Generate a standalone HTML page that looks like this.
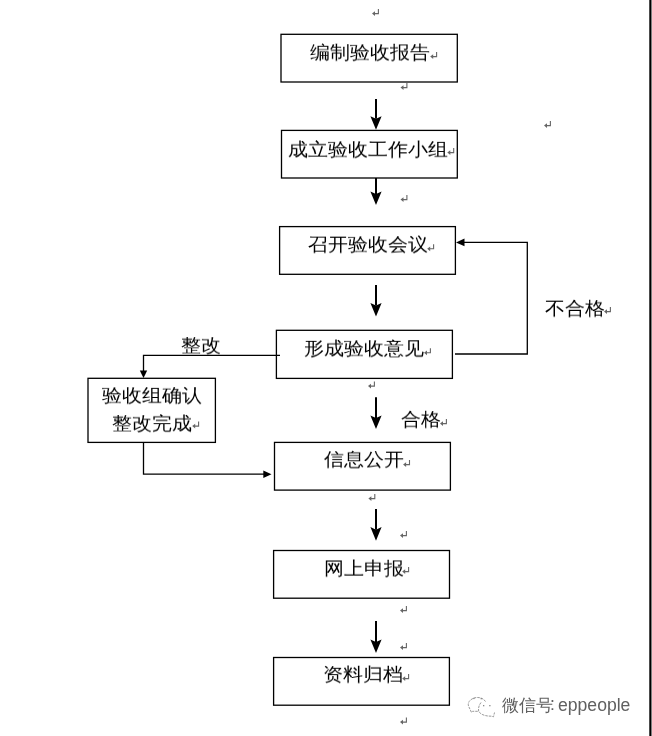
<!DOCTYPE html>
<html><head><meta charset="utf-8"><style>
html,body{margin:0;padding:0;background:#fff;width:652px;height:736px;overflow:hidden;position:relative}
svg{position:absolute;left:0;top:0}
.t{position:absolute;font-family:"Liberation Sans",sans-serif;font-size:20px;line-height:20px;white-space:nowrap;color:#000;font-weight:400;transform:scaleY(0.92);transform-origin:0 0;will-change:transform}
.wm{position:absolute;font-family:"Liberation Sans",sans-serif;font-size:17px;line-height:17px;white-space:nowrap;color:#606060;will-change:transform;text-shadow:1px 1px 0 #fff,-1px -1px 0 #fff}
</style></head><body>
<svg width="652" height="736" viewBox="0 0 652 736">
<defs><symbol id="pm" viewBox="0 0 8 8" width="8" height="8" overflow="visible">
<path d="M6.4 0 V4.6 H2" fill="none" stroke="#666" stroke-width="1.1"/>
<path d="M0 4.6 L3 2.2 L3 7 Z" fill="#666"/>
</symbol></defs>
<rect x="281.0" y="34.3" width="176.3" height="47.7" fill="none" stroke="#000" stroke-width="1.3"/><rect x="281.5" y="130.4" width="175.8" height="47.6" fill="none" stroke="#000" stroke-width="1.3"/><rect x="279.6" y="226.6" width="175.8" height="47.7" fill="none" stroke="#000" stroke-width="1.3"/><rect x="276.4" y="330.3" width="176.0" height="48.1" fill="none" stroke="#000" stroke-width="1.3"/><rect x="88.0" y="378.3" width="127.4" height="64.1" fill="none" stroke="#000" stroke-width="1.3"/><rect x="274.5" y="442.4" width="175.9" height="47.7" fill="none" stroke="#000" stroke-width="1.3"/><rect x="273.6" y="550.5" width="175.9" height="47.7" fill="none" stroke="#000" stroke-width="1.3"/><rect x="273.6" y="657.5" width="175.8" height="47.7" fill="none" stroke="#000" stroke-width="1.3"/><line x1="376" y1="99.1" x2="376" y2="118.80000000000001" stroke="#000" stroke-width="2"/><path d="M376 129.8 L370.4 116.20000000000002 L376 118.80000000000001 L381.6 116.20000000000002 Z" fill="#000"/><line x1="376" y1="178" x2="376" y2="194" stroke="#000" stroke-width="2"/><path d="M376 205 L370.4 191.4 L376 194 L381.6 191.4 Z" fill="#000"/><line x1="376" y1="285" x2="376" y2="305.5" stroke="#000" stroke-width="2"/><path d="M376 316.5 L370.4 302.9 L376 305.5 L381.6 302.9 Z" fill="#000"/><line x1="376" y1="397.3" x2="376" y2="418" stroke="#000" stroke-width="2"/><path d="M376 429 L370.4 415.4 L376 418 L381.6 415.4 Z" fill="#000"/><line x1="376" y1="509" x2="376" y2="529.7" stroke="#000" stroke-width="2"/><path d="M376 540.7 L370.4 527.1 L376 529.7 L381.6 527.1 Z" fill="#000"/><line x1="376" y1="621" x2="376" y2="642" stroke="#000" stroke-width="2"/><path d="M376 653 L370.4 639.4 L376 642 L381.6 639.4 Z" fill="#000"/><polyline points="455,354 527.3,354 527.3,242.4 462,242.4" fill="none" stroke="#000" stroke-width="1.3"/><path d="M456 242.4 L464.5 238.6 L464.5 246.2 Z" fill="#000"/><polyline points="280,355.3 143.5,355.3 143.5,371" fill="none" stroke="#000" stroke-width="1.3"/><path d="M143.5 378 L139.8 370.5 L147.2 370.5 Z" fill="#000"/><polyline points="143.5,442.4 143.5,474.2 264,474.2" fill="none" stroke="#000" stroke-width="1.3"/><path d="M271.5 474.2 L263.3 470.4 L263.3 478 Z" fill="#000"/><rect x="649.3" y="0" width="2.2" height="736" fill="#000"/><use href="#pm" x="372" y="9"/><use href="#pm" x="430.2" y="52"/><use href="#pm" x="400.5" y="83"/><use href="#pm" x="544" y="121"/><use href="#pm" x="447.3" y="148"/><use href="#pm" x="400.5" y="195"/><use href="#pm" x="427.2" y="244.2"/><use href="#pm" x="604" y="307"/><use href="#pm" x="424" y="348.2"/><use href="#pm" x="368" y="381.5"/><use href="#pm" x="192.2" y="421.5"/><use href="#pm" x="440" y="419"/><use href="#pm" x="403.1" y="460"/><use href="#pm" x="368.4" y="494"/><use href="#pm" x="400" y="531"/><use href="#pm" x="402.2" y="567"/><use href="#pm" x="400" y="606"/><use href="#pm" x="400" y="643"/><use href="#pm" x="402.2" y="674"/><use href="#pm" x="400" y="717.5"/>
<g fill="none" stroke="#9a9a9a" stroke-width="1" stroke-dasharray="2.5 1">
<path d="M485.5 701.5 C483 697.5 478 697 475 697.8 C470 699 467.5 702.5 468.5 706 L471.5 712.5 L472.5 711.3 L478.6 711.3"/>
<path d="M481 702.5 C479 705 478.2 708 478.6 711 C480 714 484 716.2 491.5 716.2 L493.5 716.8 L494.5 712.5"/>
</g>
<g fill="#8a8a8a"><rect x="473.2" y="697.8" width="1.3" height="1.3"/><rect x="480.6" y="698" width="1.3" height="1.3"/><rect x="483" y="705" width="1.3" height="1.3"/><rect x="489.2" y="705" width="1.3" height="1.3"/></g>
</svg>
<div class="t" style="left:310px;top:42.8px">编制验收报告</div><div class="t" style="left:287.5px;top:140.0px">成立验收工作小组</div><div class="t" style="left:308px;top:235.0px">召开验收会议</div><div class="t" style="left:304px;top:339.2px">形成验收意见</div><div class="t" style="left:102px;top:386.3px">验收组确认</div><div class="t" style="left:112px;top:413.5px">整改完成</div><div class="t" style="left:323.5px;top:450.0px">信息公开</div><div class="t" style="left:323.5px;top:558.7px">网上申报</div><div class="t" style="left:323px;top:664.7px">资料归档</div><div class="t" style="left:544.5px;top:298.5px">不合格</div><div class="t" style="left:401px;top:410.0px">合格</div><div class="t" style="left:180.5px;top:336.0px">整改</div>
<div class="wm" style="left:502px;top:697px;font-size:16.8px">微信号</div><div class="wm" style="left:550px;top:696px;font-size:17.5px">:</div><div class="wm" style="left:558px;top:697.3px;font-size:17.6px">eppeople</div>
</body></html>
